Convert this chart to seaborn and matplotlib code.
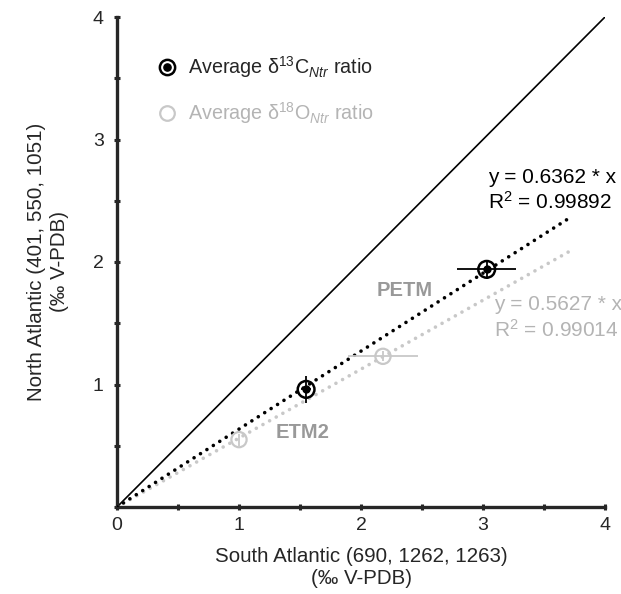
import matplotlib
matplotlib.use("Agg")
import matplotlib.pyplot as plt
import seaborn as sns
import pandas as pd
import numpy as np
from matplotlib.lines import Line2D
from matplotlib.legend_handler import HandlerTuple

# ---- data ----
events = ["ETM2", "PETM"]
c_south = [1.55, 3.03]
c_north = [0.96, 1.94]
c_xerr = [0.04, 0.24]
c_yerr = [0.11, 0.08]
o_south = [1.00, 2.18]
o_north = [0.55, 1.23]
o_xerr = [0.0, 0.29]
o_yerr = [0.05, 0.04]
c_slope, c_r2 = 0.6362, 0.99892
o_slope, o_r2 = 0.5627, 0.99014
fit_x = [0.0, 3.7]
one_to_one = [0.0, 4.0]
x_ticks = [0, 1, 2, 3, 4]

sns.set_style("ticks")
plt.rcParams["font.family"] = ["Liberation Sans", "DejaVu Sans"]
plt.rcParams["mathtext.fontset"] = "custom"
plt.rcParams["mathtext.rm"] = "Liberation Sans"
plt.rcParams["mathtext.it"] = "Liberation Sans:italic"

GRAY = "#c8c8c8"
GRAYTXT = "#b4b4b4"
LBL = "#999999"

fig = plt.figure(figsize=(6.21, 5.94), dpi=100)
ax = fig.add_axes([117 / 621, 87 / 594, 488 / 621, 490 / 594])

# 1:1 line
sns.lineplot(x=one_to_one, y=one_to_one, ax=ax, color="black", lw=1.2, zorder=2)
# fit lines
fx = np.array(fit_x)
ax.plot(fx, c_slope * fx, color="black", lw=2.6, linestyle=(0, (0.01, 2.1)),
        dash_capstyle="round", zorder=3)
ax.plot(fx, o_slope * fx, color=GRAY, lw=2.6, linestyle=(0, (0.01, 2.1)),
        dash_capstyle="round", zorder=2.5)

# error bars
ax.errorbar(o_south, o_north, xerr=o_xerr, yerr=o_yerr, fmt="none",
            ecolor=GRAY, elinewidth=1.3, capsize=0, zorder=4)
ax.errorbar(c_south, c_north, xerr=c_xerr, yerr=c_yerr, fmt="none",
            ecolor="black", elinewidth=1.3, capsize=0, zorder=5)

dfc = pd.DataFrame({"x": c_south, "y": c_north, "event": events})
dfo = pd.DataFrame({"x": o_south, "y": o_north, "event": events})
sns.scatterplot(data=dfo, x="x", y="y", ax=ax, s=120, facecolor="none",
                edgecolor=GRAY, linewidth=1.6, zorder=6)
sns.scatterplot(data=dfc, x="x", y="y", ax=ax, s=145, facecolor="none",
                edgecolor="black", linewidth=1.8, zorder=7)
sns.scatterplot(data=dfc, x="x", y="y", ax=ax, s=36, color="black",
                edgecolor="black", linewidth=0, zorder=8)

# labels
ax.text(2.36, 1.77, "PETM", color=LBL, fontsize=14.5, fontweight="bold", ha="center", va="center")
ax.text(1.52, 0.61, "ETM2", color=LBL, fontsize=14.5, fontweight="bold", ha="center", va="center")
ax.text(3.04, 2.69, f"y = {c_slope} * x", fontsize=15, color="black", va="center")
ax.text(3.04, 2.49, f"R$^{{2}}$ = {c_r2}", fontsize=15, color="black", va="center")
ax.text(3.09, 1.65, f"y = {o_slope} * x", fontsize=15, color=GRAYTXT, va="center")
ax.text(3.09, 1.45, f"R$^{{2}}$ = {o_r2}", fontsize=15, color=GRAYTXT, va="center")

# legend
h_c = (Line2D([], [], marker="o", ls="none", ms=11, mfc="none", mec="black", mew=1.8),
       Line2D([], [], marker="o", ls="none", ms=5.2, mfc="black", mec="black"))
h_o = Line2D([], [], marker="o", ls="none", ms=10.5, mfc="none", mec=GRAY, mew=1.6)
leg = ax.legend([h_c, h_o],
                [r"Average δ$^{13}$C$_{Ntr}$ ratio", r"Average δ$^{18}$O$_{Ntr}$ ratio"],
                handler_map={tuple: HandlerTuple(ndivide=1, pad=0)},
                loc="upper left", bbox_to_anchor=(0.046, 0.96), frameon=False,
                fontsize=14.2, handlelength=1.0, handletextpad=0.55, labelspacing=1.0)
leg.get_texts()[1].set_color(GRAYTXT)

# axes styling
ax.set_xlim(0, 4)
ax.set_ylim(0, 4)
ax.set_xticks(x_ticks)
ax.set_xticklabels([str(t) for t in x_ticks])
ax.set_yticks(x_ticks)
ax.set_yticklabels([""] + [str(t) for t in x_ticks[1:]])
ax.set_xticks(np.arange(0.5, 4, 1.0), minor=True)
ax.set_yticks(np.arange(0.5, 4, 1.0), minor=True)
ax.tick_params(which="both", direction="inout", length=5, width=2.2, labelsize=14)
ax.tick_params(axis="x", pad=5)
ax.tick_params(axis="y", pad=7)
sns.despine(ax=ax)
for s in ["left", "bottom"]:
    ax.spines[s].set_linewidth(2.4)
ax.set_xlabel("South Atlantic (690, 1262, 1263)\n(‰ V-PDB)", fontsize=14.8, labelpad=9,
              linespacing=1.2)
ax.set_ylabel("North Atlantic (401, 550, 1051)\n(‰ V-PDB)", fontsize=14.8, labelpad=17,
              linespacing=1.25)

fig.savefig("out.png", dpi=100)
